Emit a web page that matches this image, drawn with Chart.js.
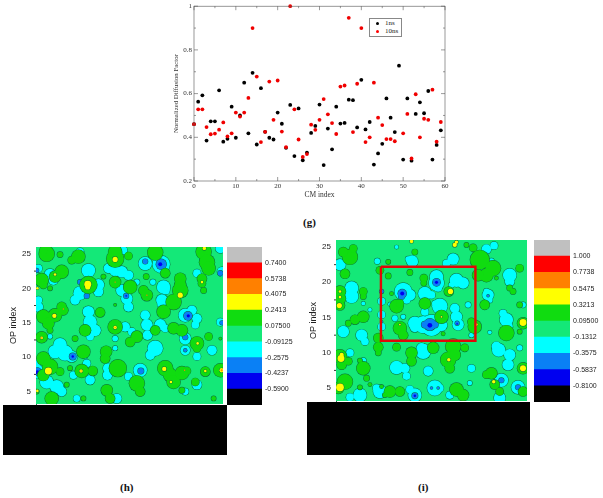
<!DOCTYPE html>
<html><head><meta charset="utf-8">
<script src="https://cdn.jsdelivr.net/npm/chart.js@4"></script>
<style>
html,body{margin:0;padding:0;background:#fff;width:603px;height:498px;overflow:hidden}
canvas{position:absolute}
.t{position:absolute;white-space:nowrap}
.cap{font:bold 11px "Liberation Serif",serif;color:#111}
#lg{position:absolute;left:369px;top:18px;width:31px;height:17px;border:1px solid #888;background:#fff;font:7px "Liberation Serif",serif;color:#222}
#lg i{position:absolute;left:6px;width:3px;height:3px;border-radius:50%}
#lg span{position:absolute;left:15px}
.blk{position:absolute;background:#000}
#g{filter:blur(.35px)} #h,#i{filter:blur(.55px)} #hb,#ib{filter:blur(.3px)}
</style></head><body>
<canvas id="g" width="310" height="200" style="left:150px;top:0"></canvas>
<canvas id="h" width="223" height="170" style="left:0;top:235px"></canvas>
<canvas id="i" width="227" height="167" style="left:300px;top:235px"></canvas>
<canvas id="hb" width="72" height="158" style="left:227px;top:247px"></canvas>
<canvas id="ib" width="69" height="162" style="left:534px;top:240px"></canvas>
<div class="blk" style="left:3px;top:405px;width:224px;height:50px"></div>
<div class="blk" style="left:307px;top:402px;width:223px;height:53px"></div>
<div id="lg"><i style="top:2.5px;background:#000"></i><span style="top:0">1ns</span><i style="top:10.5px;background:#f00"></i><span style="top:8px">10ns</span></div>
<div class="t cap" style="left:303px;top:216px">(g)</div>
<div class="t cap" style="left:120px;top:481px">(h)</div>
<div class="t cap" style="left:418px;top:481px">(i)</div>
<script>
// ---- panel (g) values
const cmIndex=[...Array(60).keys()];
const ns1=[.46,.563,.592,.385,.473,.473,.615,.38,.393,.54,.398,.5,.65,.418,.695,.367,.625,.425,.398,.39,.513,.462,.352,.548,.314,.532,.295,.33,.42,.452,.55,.273,.44,.345,.54,.463,.466,.572,.57,.445,.663,.436,.47,.275,.326,.37,.578,.49,.424,.728,.298,.578,.293,.507,.56,.51,.612,.298,.365,.432];
const ns10=[.46,.528,.528,.447,.414,.417,.435,.468,.404,.418,.513,.495,.513,.58,.9,.678,.378,.425,.655,.48,.66,.426,.355,1,.528,.39,.31,.323,.458,.434,.48,.575,.505,.465,.415,.632,.637,.947,.424,.645,.9,.378,.4,.65,.49,.456,.392,.392,.382,null,.418,.507,.303,.597,.4,.485,.48,.618,.38,.47];

// ---- colour-scale levels
const levelsH=['-0.5900','-0.4237','-0.2575','-0.09125','0.07500','0.2413','0.4075','0.5738','0.7400'];
const levelsI=['-0.8100','-0.5837','-0.3575','-0.1312','0.09500','0.3213','0.5475','0.7738','1.000'];
const bandColors=['#000000','#0000f0','#0a80f5','#00ffff','#14e878','#10dc10','#ffff00','#ff8000','#ff0000','#c0c0c0'];

// ---- contour regions [CM index, OP index, extent]
const hCyan=[[4.2,22,1.2],[5.2,21.2,1],[15.7,22.6,1.4],[21.7,22.9,1],[23.7,22.6,1.2],[25.7,22.4,1.2],[27.7,21.9,1],[32.7,23.6,1.4],[37.5,23.5,1.8],[30.2,20.9,.6],[35,20.9,.6],[38.2,20.2,1.4],[38.9,19.7,.8],[18.7,20.5,1.2],[18.7,19.5,1],[13.2,19.3,1.4],[11.7,18.3,1],[14.7,19.7,1.2],[25.7,19.7,1.2],[27.2,18.5,1.2],[27.7,17.3,1],[15.7,16.6,1.2],[16.2,15.1,1.4],[17.7,13.9,1.2],[16.2,13,.8],[.7,17.3,1],[.7,18.3,.8],[37.7,18.3,1.2],[37.5,17.6,.8],[44.7,16.1,1.4],[46.7,16.8,1],[48.2,15.6,1],[47.7,14.7,.8],[32.7,16.1,1],[33.2,14.7,1.2],[33.4,13.2,1],[37.2,14.7,1.2],[38.7,14.2,.8],[26.7,14.4,1],[28.7,13.7,.8],[7.2,11.8,1.4],[5.7,10.8,1.4],[8.7,10.6,1.6],[10.7,10.1,1.2],[35.7,11.3,1.6],[34.2,10.3,1],[44.7,12.7,1.2],[44.7,11,1],[48.2,10.1,.8],[52.7,11,1],[55.2,15.1,.8],[23.7,12.7,.6],[23.7,11.3,.5],[.4,7.9,1.4],[.7,9.3,.8],[15.2,9.1,.8],[14.7,10.1,.5],[21.5,8.4,1],[21.4,7.4,1],[31.2,8.1,1.4],[27.7,7.2,.8],[16.2,6.7,1],[11.2,7.4,.8],[3.2,6.4,1.4],[6.2,5.7,1.4],[7.7,5,1],[48.2,6,1],[24.2,4,1],[12.2,4,.7],[44.7,5,.7],[55.2,25.8,1],[55.7,22.4,1],[13.2,25.3,.8],[26.2,25.5,.8],[48.2,22.2,.8],[1.2,12.7,.5],[4.2,13,.5],[.7,22.9,.8]];
const hAzure=[[37.5,23.5,1.2],[32.7,23.9,.6],[13.2,20.9,.6],[15.2,18.9,.6],[27,18.9,.6],[55.2,22.2,.6],[45.5,16,1],[55.7,15,.5],[44.7,12.9,.6],[44.7,11,.4],[11,10.1,.8],[.4,7.9,.9],[31.4,8,.7],[.2,22.6,.5]];
const hBlue=[[37.2,23.5,.5],[45.6,16,.4],[.4,7.8,.5],[11,10.1,.3],[27,18.9,.2]];
const hGreen=[[3.2,25,1.6],[2.2,25.5,.8],[7.2,24.9,.6],[12.7,24.6,1.4],[10.7,24.1,.8],[23.7,24.3,1.8],[23.7,25.3,1.4],[35.7,25.2,1.6],[27.7,24.7,.8],[50.2,25.3,1.6],[51.2,23.8,1.6],[51.7,22.9,1.4],[49.7,21.4,1],[38.7,22.2,1],[7.7,22.4,1.4],[5.7,21.7,1.2],[1.7,21.2,1.4],[2.2,20.5,.8],[15.7,20.5,1.8],[23.7,20.9,1.2],[20.2,21.7,.5],[28.2,20.2,1.4],[33,21.7,.6],[32.2,19.7,1],[33.2,19,1.2],[43.2,21.4,1.2],[43.2,19.7,1.6],[41.2,18,1.6],[38.2,16.6,1.4],[43.2,20.5,1.2],[4.2,20,.5],[49.7,20.7,.8],[50.2,19.7,.6],[7.7,17.3,1],[5.7,16.1,1.4],[2.2,15.9,1.4],[3.7,14.9,1.2],[8.2,16.8,1],[4.2,13.9,.6],[19.2,16.5,1],[23.7,14.4,1.5],[23.7,17.6,.3],[1.7,12.9,1.2],[14.7,13.9,1.2],[11.7,12.7,.6],[30.2,13,1.2],[28.2,12.2,1],[35.7,13.9,1],[41.2,14.2,1.2],[43.7,13.9,1.2],[48.2,12,1.4],[48.2,11.3,.8],[51.7,13,.8],[14.2,10.8,1.4],[21,10.8,1.2],[20.7,9.8,1],[2.2,9.8,1.4],[4.2,8.6,1.6],[2.2,7.4,1.2],[7.2,7.9,.8],[13.7,8,1.4],[17,8,1],[24.5,8.4,1.8],[10.2,8.4,.5],[38.7,8.4,1.6],[40.2,7.4,1.4],[41.2,6.4,1.4],[43.7,7.7,1.4],[45.2,8,.8],[30.2,6.2,1.6],[31.2,5,1],[21.2,5.2,1.2],[22.2,4,1],[4.7,4,1.4],[9.2,6,.5],[50.7,7.9,1],[55.2,8.1,1.4],[47.7,6.4,.8],[.2,5,.5],[43.7,5.2,.6],[53.2,4,.5],[55.2,12.7,.3],[14.2,4,.5]];
const hYellow=[[23.7,24.2,.6],[15.5,20.6,.8],[15.5,20.2,.6],[43.2,19,.6],[3.7,8,.8],[38.4,8.3,.5],[55.6,8.1,.5],[.4,5.1,.3],[13.5,8,.4],[5.5,16,.5],[5.7,22,.3],[.4,20,.3],[23.7,14.3,.4],[48.4,12,.3],[1.7,12.8,.3],[50.7,8,.3],[40.4,6.4,.3],[49.7,20.9,.3],[50.4,25.8,.4]];
const hOrange=[[23.7,14.3,.2],[55.6,8.1,.3],[1.7,12.8,.15],[33.2,19,.2],[23.7,20.9,.2],[13.5,8,.2],[8.2,17,.2],[44.5,8.1,.2]];

const iCyan=[[1.2,22.5,1.2],[4.7,19.2,1.4],[4.7,18,1.4],[4.2,18.4,1.2],[12.4,23,.6],[18.2,25,.4],[22.9,23,1.2],[21.7,23.3,.6],[23.7,22.8,.6],[35.2,23.3,1.2],[33.2,22.7,.8],[45.2,24.7,1],[47.5,25.2,.8],[46.7,23,.6],[52.2,21,1.4],[52.2,20.1,1],[30.2,20.8,1.4],[30.2,19.9,1.6],[30.7,19.2,.8],[36.2,20.3,1.4],[38.2,19.9,1.2],[34.7,19.6,.6],[20.2,18.7,1.8],[22.2,18.2,1.2],[21.2,17.5,.8],[26.7,18.4,1.4],[28.7,18.2,.8],[31.2,16.6,1.6],[29.7,17,.6],[35.7,16.3,1],[36.2,15.1,1.2],[36.7,14,1.2],[26.7,15.8,.8],[17.7,14.9,.6],[20.2,15.1,.5],[23.7,14.2,1.4],[26.2,14,1.8],[28.7,13.9,2.2],[31.7,13.9,1.2],[23.7,13.6,1],[13.7,17.3,.8],[13.7,15.4,.8],[13.7,13.7,.8],[2.2,13,1.2],[7.7,12.5,1.2],[8.7,11.6,.8],[26.2,10.2,1.6],[25.7,10.7,1],[48.9,10.4,1.4],[48.2,10.9,1],[52.2,9.7,1.2],[51.7,8.3,1.2],[39.7,16.8,.6],[16.2,16.9,.4],[10.2,16.1,.4],[8.2,17,.4],[45.7,18.2,1.2],[45.2,18.7,.6],[46.2,17.5,.6],[51.2,14.7,1.4],[51.7,13.7,1],[50.2,15.6,.8],[56.2,16.8,.6],[18.2,7.9,1.4],[20.7,7.8,1],[21.2,6.7,.8],[4.2,10,.8],[8.2,8.9,.6],[27.7,7.4,1],[55.2,10.7,.6],[46.2,12.9,.4],[49.7,6.1,1.4],[54.7,5.1,1.4],[13.2,4.5,1.4],[12.2,5,.8],[23.7,4,1.4],[22.2,4.8,.8],[29.7,5,1.6],[31.2,5,.8],[7.2,4,1.4],[4.2,3.7,.8],[49.2,3.6,1.2],[40.7,7.8,.8],[40.2,5.7,.5],[40.7,12.5,.5],[34.2,4,.8]];
const iAzure=[[19.9,18.4,1],[19.7,18,.7],[30.2,20,.9],[28.2,14,1.4],[26.7,14,.8],[29.7,14,.8],[36.4,14.2,.5],[23.7,3.9,.7],[49.7,6.1,.6],[54.7,5.1,.6],[45.7,18.1,.3],[28.7,5,.3],[30.7,5,.3],[13.7,18.7,.5],[13.7,14.4,.3]];
const iBlue=[[19.9,18.4,.5],[28.2,13.9,.6],[36.4,14.1,.2],[30.2,20,.4],[23.7,3.9,.3]];
const iGreen=[[4.2,23.6,1.6],[2.2,24.3,1],[5.2,24.8,.8],[2.7,21.2,1],[13.2,21.7,.8],[15.7,20.9,.6],[15.7,22.9,.5],[22.2,21.4,.6],[26.4,20.6,.8],[26.4,19.9,.6],[23.7,24.3,.6],[41.2,24.9,.8],[39.2,25.3,.5],[43.2,23.2,2],[47.2,22,1.6],[45.2,21,1.4],[42.7,21,1.2],[55.2,22,.8],[48.2,20.6,.4],[33.9,18.7,1],[1.2,18.7,1.2],[1.2,17.7,1.2],[1.2,16.7,1],[8.2,18.7,.8],[8.2,18,.6],[18.2,16.6,1.4],[19.2,17,.8],[26.7,17,1.2],[31.7,15.1,1.4],[8.2,15.1,1.2],[5.7,14.7,1],[3.7,14.2,.6],[19.2,13.5,1.4],[20.2,12.5,1],[41.7,13.7,1.4],[40.7,14.4,.8],[12.7,12.1,1],[12.7,10.8,1],[12.7,10,.6],[18.2,10.8,.8],[22.7,10,1.2],[22.7,8.8,1],[29.2,10.7,1.2],[35.2,10.9,1.6],[33.7,9,1.6],[34.2,7.8,1],[35.7,9.7,1.2],[38.7,10.7,.8],[51.2,12.8,1.6],[1.2,9.5,1.4],[1.7,8.3,1],[3.7,8.8,.8],[8.2,7.8,1.4],[9.2,6.4,.6],[10.2,5.5,.4],[56.2,14.2,1.2],[56.2,7.8,1.2],[2.7,5.9,1.6],[.7,5,1.2],[16.2,4.5,1.2],[14.7,4,.5],[19.2,4.5,1],[13.7,5.2,.4],[7.2,5.1,.5],[36.2,4.8,1.4],[38.2,4,1.2],[46.7,7.1,1.2],[47.7,5.5,1],[45.2,6.9,.8],[49.2,4.5,.8],[56.2,4.5,1],[44.7,16.8,1],[55.2,16.8,.6],[32.2,12.7,.4],[16.7,18.4,.4],[53.2,18.7,.6],[52.2,19.2,.6],[55.2,13,.5],[7.2,8.9,.5]];
const iYellow=[[1.5,9.2,.8],[1.7,9.7,.5],[1.2,5.1,.9],[1,16.7,.6],[34.4,18.7,.6],[35.7,25.3,.5],[36.2,25.7,.4],[56.2,14.3,.8],[56.2,7.8,.7],[47.4,5.9,.4],[1.2,18.7,.3],[1.2,17.9,.3],[42.2,14,.3],[33.9,9,.4],[22.7,25.8,.4],[31.7,15.1,.2],[19.2,14,.2]];
const iRectX=[13.5,41.9,41.9,13.5,13.5];
const iRectY=[22.2,22.2,11.7,11.7,22.2];

const FONT_SANS='"Liberation Sans",Arial,sans-serif';
const FONT_SERIF='"Liberation Serif",serif';

const frameTicks={id:'frameTicks',afterDraw(c){
  const {left,right,top,bottom}=c.chartArea,ctx=c.ctx;
  ctx.save();ctx.strokeStyle='#555';ctx.lineWidth=.6;
  ctx.strokeRect(left,top,right-left,bottom-top);
  ctx.beginPath();
  const tk=(s,v,l)=>{const p=s.getPixelForValue(v);
    if(s.axis==='x'){ctx.moveTo(p,bottom);ctx.lineTo(p,bottom-l);ctx.moveTo(p,top);ctx.lineTo(p,top+l);}
    else{ctx.moveTo(left,p);ctx.lineTo(left+l,p);ctx.moveTo(right,p);ctx.lineTo(right-l,p);}};
  const sx=c.scales.x,sy=c.scales.y;
  for(let v=0;v<=60;v+=5)tk(sx,v,v%10?2:4);
  for(let k=2;k<=10;k++)tk(sy,k/10,k%2?2:4);
  ctx.stroke();ctx.restore();
}};
new Chart(document.getElementById('g'),{type:'scatter',
 data:{datasets:[
  {label:'10ns',data:cmIndex.map((x,k)=>({x,y:ns10[k]})),backgroundColor:'#f00000',pointRadius:1.9,borderWidth:0,order:1},
  {label:'1ns',data:cmIndex.map((x,k)=>({x,y:ns1[k]})),backgroundColor:'#000',pointRadius:1.9,borderWidth:0,order:2}]},
 options:{responsive:false,animation:false,devicePixelRatio:1,
  layout:{padding:{left:22,right:15,top:5,bottom:0}},clip:false,
  plugins:{legend:{display:false},tooltip:{enabled:false}},
  scales:{
   x:{type:'linear',min:0,max:60,afterFit:s=>{s.height=19},grid:{display:false,drawTicks:false},border:{display:false},
      ticks:{stepSize:10,padding:1,maxRotation:0,font:{family:FONT_SERIF,size:7},color:'#333'},
      title:{display:true,text:'CM index',font:{family:FONT_SERIF,size:7.5},color:'#333',padding:{top:0,bottom:0}}},
   y:{min:.2,max:1,afterFit:s=>{s.width=22},grid:{display:false,drawTicks:false},border:{display:false},
      ticks:{stepSize:.2,padding:2,font:{family:FONT_SERIF,size:7},color:'#333',callback:v=>+v.toFixed(1)},
      title:{display:true,text:'Normalized Diffusion Factor',font:{family:FONT_SERIF,size:6.8},color:'#333',padding:{top:0,bottom:2}}}
  }},plugins:[frameTicks]});

function regionSets(regs){
  const rad=(k,d)=>c=>{const s=c.chart.scales.x;return Math.max(.6,(s.getPixelForValue(c.raw[2])-s.getPixelForValue(0))*k+d);};
  const out=[];
  regs.forEach(([pts,col,line,k])=>{
    if(line)out.push({data:pts,pointRadius:rad(k,.45),backgroundColor:'#0c6a3c',borderWidth:0,pointBorderWidth:0});
    out.push({data:pts,pointRadius:rad(k,0),backgroundColor:col,borderWidth:0,pointBorderWidth:0});
  });
  return out;
}
const minorOP=[7.5,12.5,17.5,22.5];
const opMinorTicks={id:'opMinor',afterDraw(c){const s=c.scales.y,l=c.chartArea.left,x=c.ctx;x.save();x.strokeStyle='#333';x.lineWidth=1;x.beginPath();
  minorOP.forEach(v=>{const p=s.getPixelForValue(v);x.moveTo(l-2,p);x.lineTo(l,p);});x.stroke();x.restore();}};
function contour(id,pad,axisW,xmax,ymin,regs,rect){
  const sets=regionSets(regs);
  if(rect)sets.push({data:rect[0].map((x,k)=>({x,y:rect[1][k]})),showLine:true,borderColor:'#e00808',borderWidth:2.4,pointRadius:0,fill:false});
  sets.reverse();
  new Chart(document.getElementById(id),{type:'scatter',data:{datasets:sets},
   options:{responsive:false,animation:false,devicePixelRatio:1,layout:{padding:pad},
    plugins:{legend:{display:false},tooltip:{enabled:false}},
    scales:{
     x:{type:'linear',display:false,min:0,max:xmax},
     y:{min:ymin,max:26,afterFit:s=>{s.width=axisW;s.paddingTop=0;s.paddingBottom=0},afterBuildTicks:s=>{s.ticks=[5,10,15,20,25].map(value=>({value}))},
        grid:{display:false,drawTicks:true,tickLength:4,tickColor:'#333'},border:{display:true,color:'#2a6a4a',width:1},
        ticks:{padding:1,font:{family:FONT_SANS,size:8},color:'#222'},
        title:{display:true,text:'OP index',font:{family:FONT_SANS,size:9},color:'#222',padding:{top:0,bottom:1}}}
    }},
   plugins:[opMinorTicks,{id:'bg',beforeDatasetsDraw(c){const a=c.chartArea;c.ctx.fillStyle=bandColors[4];c.ctx.fillRect(a.left,a.top,a.right-a.left,a.bottom-a.top);}}]});
}
contour('h',{top:12,bottom:1,left:8,right:0},28,56,3.2,[[hCyan,bandColors[3],1,1.45],[hAzure,bandColors[2],1,1.3],[hBlue,bandColors[1],0,1.2],[hGreen,bandColors[5],1,1.45],[hYellow,bandColors[6],1,1.3],[hOrange,bandColors[7],0,1]]);
contour('i',{top:5,bottom:1,left:8,right:0},28,57.4,3.16,[[iCyan,bandColors[3],1,1.45],[iAzure,bandColors[2],1,1.3],[iBlue,bandColors[1],0,1.2],[iGreen,bandColors[5],1,1.45],[iYellow,bandColors[6],1,1.3]],[iRectX,iRectY]);

function colorBar(id,levels,axisW){
  new Chart(document.getElementById(id),{type:'bar',
   data:{labels:['scale'],datasets:bandColors.map((c,k)=>({data:[[k,k+1]],backgroundColor:c,borderWidth:0,barPercentage:1,categoryPercentage:1,grouped:false}))},
   options:{responsive:false,animation:false,devicePixelRatio:1,layout:{padding:0},
    plugins:{legend:{display:false},tooltip:{enabled:false}},
    scales:{x:{display:false},
     y:{position:'right',min:0,max:10,afterFit:s=>{s.width=axisW;s.paddingTop=0;s.paddingBottom=0},afterBuildTicks:s=>{s.ticks=levels.map((l,k)=>({value:k+1}))},
        grid:{display:false,drawTicks:false},border:{display:false},
        ticks:{padding:3,font:{family:FONT_SANS,size:7},color:'#222',callback:v=>levels[v-1]}}}}});
}
colorBar('hb',levelsH,37);
colorBar('ib',levelsI,33);
</script>
</body></html>
